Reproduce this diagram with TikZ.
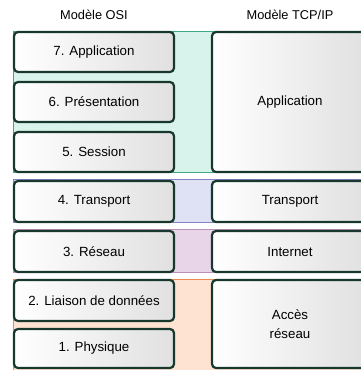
\documentclass[tikz,border=0pt]{standalone}
\usepackage{fontspec}
\setmainfont{Liberation Sans}
\definecolor{layerline}{RGB}{24,56,46}
\definecolor{appband}{RGB}{216,243,235}
\definecolor{appedge}{RGB}{60,170,130}
\definecolor{transband}{RGB}{223,225,245}
\definecolor{transedge}{RGB}{130,130,195}
\definecolor{netband}{RGB}{232,213,232}
\definecolor{netedge}{RGB}{185,145,185}
\definecolor{accband}{RGB}{255,227,210}
\definecolor{accedge}{RGB}{232,140,80}

\begin{document}
\begin{tikzpicture}[x=1pt,y=-1pt]
  \tikzstyle{layer}=[draw=layerline,line width=2.2pt,rounded corners=4pt,
    left color=white,right color=black!12,minimum height=40pt,
    align=center,inner sep=0pt,font=\fontsize{13.3}{19}\selectfont]
  \tikzstyle{osi}=[layer,minimum width=160pt]
  \tikzstyle{tcp}=[layer,minimum width=156pt]
  \tikzstyle{band}=[line width=0.8pt]
  \tikzstyle{title}=[font=\fontsize{12.8}{14}\selectfont]

  \useasboundingbox (0,0) rectangle (361,370);
  \clip (0,0) rectangle (361,370);

  % -- coloured bands behind the layers --
  \draw[band,draw=appedge,fill=appband] (13,31) rectangle (368,172.5);
  \draw[band,draw=transedge,fill=transband] (13,179.5) rectangle (368,222.5);
  \draw[band,draw=netedge,fill=netband] (13,229) rectangle (368,272.5);
  \draw[band,draw=accedge,fill=accband] (13,279) rectangle (368,380);

  % -- titles --
  \node[title] (osititle) at (94,15) {Modèle OSI};
  \node[title] (tcptitle) at (290,15) {Modèle TCP/IP};

  % -- OSI layers --
  \node[osi] (osi7) at (94,52) {7. Application};
  \node[osi] (osi6) at (94,102) {6. Présentation};
  \node[osi] (osi5) at (94,152) {5. Session};
  \node[osi,minimum height=41pt] (osi4) at (94,201.5) {4. Transport};
  \node[osi,minimum height=41pt] (osi3) at (94,251.5) {3. Réseau};
  \node[osi,minimum height=41pt] (osi2) at (94,300.5) {2. Liaison de données};
  \node[osi,minimum height=39pt] (osi1) at (94,348.5) {1. Physique};

  % -- TCP/IP layers --
  \node[tcp,minimum height=140pt] (tcpapp) at (290,102) {Application};
  \node[tcp,minimum height=41pt] (tcptrans) at (290,201.5) {Transport};
  \node[tcp,minimum height=41pt] (tcpnet) at (290,251.5) {Internet};
  \node[tcp,minimum height=88pt] (tcpacc) at (290,324) {Accès\\réseau};
\end{tikzpicture}
\end{document}
